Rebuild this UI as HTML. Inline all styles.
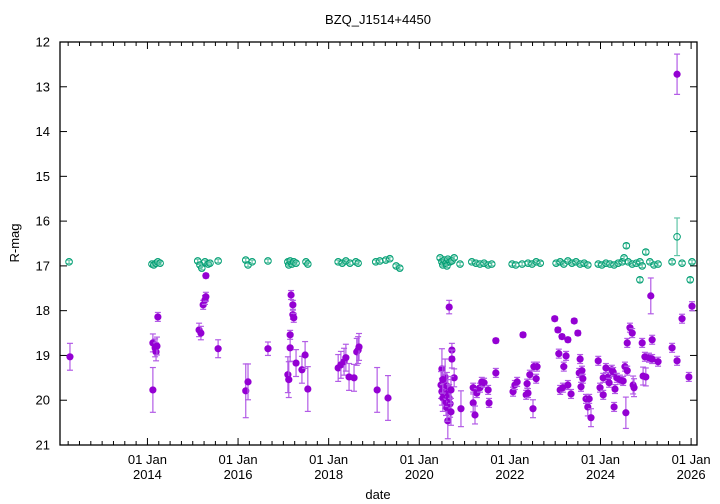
<!DOCTYPE html>
<html><head><meta charset="utf-8"><style>
html,body{margin:0;padding:0;background:#fff;}
svg{display:block;font-family:"Liberation Sans",sans-serif;}
</style></head><body>
<svg id="chart" width="720" height="504" viewBox="0 0 720 504" xmlns="http://www.w3.org/2000/svg">
<rect width="720" height="504" fill="#fff"/>
<text x="378" y="24" font-size="13" text-anchor="middle">BZQ_J1514+4450</text>
<text x="378" y="499" font-size="13" text-anchor="middle">date</text>
<text x="0" y="0" font-size="13" text-anchor="middle" transform="translate(19,243) rotate(-90)">R-mag</text>
<g id="grid"></g>
<g id="marks"></g>
<rect x="60" y="42" width="637" height="403" fill="none" stroke="#000" stroke-width="1.3"/>
</svg>
<script>
const yTicks=[12,13,14,15,16,17,18,19,20,21];
const xTickYears=[2014,2016,2018,2020,2022,2024,2026];
const xTickLabels=["2014","2016","2018","2020","2022","2024","2026"];
const purpleDates=[2012.29,2014.12,2014.12,2014.17,2014.19,2014.21,2014.23,2015.14,2015.18,2015.23,2015.27,2015.29,2015.29,2015.56,2016.17,2016.22,2016.66,2017.10,2017.12,2017.15,2017.17,2017.21,2017.21,2017.23,2017.15,2017.28,2017.41,2017.48,2017.54,2018.21,2018.27,2018.34,2018.38,2018.45,2018.56,2018.62,2018.65,2018.67,2019.07,2019.31,
2020.50,2020.57,2020.66,2020.72,2020.72,2020.77,2020.63,2020.48,2020.50,2020.52,2020.55,2020.57,2020.59,2020.61,2020.61,2020.63,2020.66,2020.68,2020.70,2020.70,2020.52,
2020.92,2021.19,2021.19,2021.23,2021.27,2021.34,2021.38,2021.43,2021.52,2021.54,2021.69,2021.69,2022.07,2022.11,2022.16,2022.29,2022.36,2022.38,2022.40,2022.44,2022.51,2022.53,2022.60,2022.58,
2022.99,2023.06,2023.08,2023.15,2023.24,2023.28,2023.19,2023.11,2023.17,2023.28,2023.35,2023.42,2023.50,2023.55,2023.53,2023.59,2023.61,2023.57,2023.68,2023.72,2023.75,2023.79,
2023.95,2023.99,2024.06,2024.06,2024.12,2024.17,2024.19,2024.25,2024.28,2024.30,2024.32,2024.36,2024.43,2024.50,2024.54,2024.56,2024.59,2024.59,2024.65,2024.70,2024.72,2024.74,
2024.92,2024.94,2025.00,2024.98,2025.07,2025.14,2025.11,2025.14,2025.27,2025.58,2025.69,2025.69,2025.80,2025.95,2026.02];
const purpleMags=[19.03,19.77,18.72,18.83,18.92,18.79,18.14,18.43,18.50,17.87,17.76,17.69,17.22,18.85,19.79,19.59,18.85,19.43,19.54,18.83,17.65,17.87,18.09,18.16,18.54,19.17,19.32,18.99,19.75,19.28,19.21,19.14,19.05,19.48,19.50,18.92,18.88,18.81,19.77,19.95,
19.30,19.48,17.92,18.88,19.08,19.50,20.46,19.66,19.81,19.95,19.72,19.88,20.04,19.68,20.17,19.84,19.95,20.08,19.77,20.26,19.54,
20.19,19.72,20.06,20.33,19.84,19.72,19.59,19.61,19.77,20.06,18.67,19.39,19.81,19.66,19.59,18.54,19.88,19.63,19.84,19.43,20.19,19.25,19.25,19.52,
18.18,18.43,18.96,18.58,19.01,18.65,19.25,19.77,19.72,19.66,19.86,18.23,18.50,19.08,19.39,19.34,19.52,19.70,19.97,20.15,19.97,20.39,
19.12,19.72,19.88,19.50,19.28,19.48,19.61,19.32,19.37,20.15,19.75,19.50,19.54,19.57,19.25,20.28,19.34,18.72,18.38,18.50,19.66,19.72,
18.72,19.46,19.48,19.03,19.05,18.65,17.67,19.08,19.14,18.83,19.12,12.72,18.18,19.48,17.90];
const purpleErrs=[0.3,0.5,0.2,0.2,0.2,0.2,0.1,0.15,0.15,0.1,0.1,0.1,0.05,0.2,0.6,0.4,0.15,0.4,0.4,0.3,0.1,0.1,0.1,0.1,0.1,0.3,0.3,0.3,0.5,0.3,0.3,0.3,0.3,0.3,0.3,0.3,0.3,0.3,0.5,0.5,
0.45,0.4,0.15,0.15,0.2,0.2,0.4,0.3,0.3,0.3,0.3,0.3,0.3,0.3,0.3,0.3,0.3,0.3,0.3,0.3,0.3,
0.4,0.1,0.2,0.2,0.1,0.1,0.1,0.1,0.1,0.1,0.05,0.1,0.1,0.1,0.1,0.05,0.1,0.1,0.1,0.1,0.2,0.1,0.1,0.1,
0.05,0.05,0.1,0.05,0.1,0.05,0.1,0.1,0.1,0.1,0.1,0.05,0.05,0.1,0.1,0.1,0.1,0.1,0.1,0.2,0.1,0.2,
0.1,0.1,0.1,0.1,0.1,0.1,0.1,0.1,0.1,0.1,0.1,0.1,0.1,0.1,0.1,0.35,0.1,0.1,0.1,0.1,0.2,0.2,
0.1,0.2,0.2,0.1,0.1,0.1,0.4,0.1,0.1,0.1,0.1,0.45,0.1,0.1,0.1];
const greenDates=[2012.27,2014.10,2014.14,2014.19,2014.23,2014.28,2015.11,2015.16,2015.20,2015.27,2015.34,2015.38,2015.56,2016.17,2016.22,2016.31,2016.66,2017.10,2017.12,2017.15,2017.19,2017.23,2017.28,2017.50,2017.54,2018.21,2018.30,2018.38,2018.47,2018.60,2018.65,2019.04,2019.13,2019.26,2019.35,2019.49,2019.57,
2020.46,2020.50,2020.52,2020.55,2020.59,2020.61,2020.63,2020.68,2020.72,2020.77,2020.90,2021.16,2021.25,2021.34,2021.43,2021.52,2021.60,2022.05,2022.13,2022.27,2022.40,2022.49,2022.58,2022.67,
2023.02,2023.11,2023.19,2023.28,2023.37,2023.46,2023.55,2023.64,2023.72,2023.95,2024.03,2024.12,2024.21,2024.30,2024.39,2024.48,2024.52,2024.57,2024.61,2024.70,2024.79,2024.87,2024.92,2024.87,2025.00,2025.09,2025.18,2025.27,2025.69,2025.58,2025.80,2025.98,2026.02];
const greenMags=[16.91,16.96,16.98,16.94,16.91,16.94,16.89,16.98,17.05,16.91,16.96,16.94,16.89,16.87,16.98,16.91,16.89,16.91,16.98,16.89,16.96,16.91,16.94,16.91,16.96,16.91,16.94,16.89,16.94,16.91,16.94,16.91,16.89,16.87,16.84,17.00,17.05,
16.82,16.91,16.98,16.87,16.94,17.00,16.85,16.91,16.89,16.82,16.96,16.91,16.94,16.96,16.94,16.98,16.96,16.96,16.98,16.96,16.94,16.96,16.91,16.94,
16.94,16.91,16.96,16.89,16.94,16.91,16.96,16.94,16.98,16.96,16.98,16.94,16.96,16.98,16.94,16.91,16.82,16.55,16.91,16.96,16.94,16.91,17.00,17.31,16.69,16.91,16.98,16.96,16.35,16.91,16.94,17.31,16.91];
const greenErrs=greenMags.map(m=>m>17.2||m<16.7?(m<16.5?0.42:0.05):0.04);

const X0=2012.07,X1=2026.13,PX0=60,PX1=697,PY0=42,PY1=445;
function xs(t){return PX0+(t-X0)/(X1-X0)*(PX1-PX0);}
function ys(m){return PY0+(m-12)/(21-12)*(PY1-PY0);}
const NS="http://www.w3.org/2000/svg";
function mk(tag,attrs,parent){const e=document.createElementNS(NS,tag);for(const k in attrs)e.setAttribute(k,attrs[k]);parent.appendChild(e);return e;}
const grid=document.getElementById('grid'),marks=document.getElementById('marks');
yTicks.forEach(v=>{
  const y=ys(v);
  const t=mk('line',{x1:PX0,x2:PX0+7,y1:y,y2:y,stroke:'#000'},grid);
  
  
  const t2=mk('line',{x1:PX1-7,x2:PX1,y1:y,y2:y,stroke:'#000'},grid);
  
  
  const l=mk('text',{x:PX0-10,y:y+4.5,'font-size':13,'text-anchor':'end'},grid);
  l.textContent=v;
  
  
});
for(let q=Math.ceil(X0*4);q<=Math.floor(X1*4);q++){
  const t=q/4,x=xs(t);const major=(q%8===0);const len=major?7:4;
  const a=mk('line',{x1:x,x2:x,y1:PY1,y2:PY1-len,stroke:'#000'},grid);
  
  
  const b=mk('line',{x1:x,x2:x,y1:PY0,y2:PY0+len,stroke:'#000'},grid);
  
  
}
xTickYears.forEach((yr,i)=>{
  const x=xs(yr);
  const l1=mk('text',{x:x,y:464,'font-size':13,'text-anchor':'middle'},grid);
  l1.textContent='01 Jan';
  
  
  const l2=mk('text',{x:x,y:479,'font-size':13,'text-anchor':'middle'},grid);
  l2.textContent=xTickLabels[i];
  
  
});
function errbar(x,m,e,col){
  const y1=ys(m-e),y2=ys(m+e);
  const g=mk('g',{stroke:col,'stroke-width':1.2},marks);
  
  
  mk('line',{x1:x,x2:x,y1:y1,y2:y2},g);
  mk('line',{x1:x-3,x2:x+3,y1:y1,y2:y1},g);
  mk('line',{x1:x-3,x2:x+3,y1:y2,y2:y2},g);
}
greenDates.forEach((d,i)=>{
  const x=xs(d),y=ys(greenMags[i]);
  errbar(x,greenMags[i],greenErrs[i],'#5fc4a6');
  const c=mk('circle',{cx:x,cy:y,r:3.3,fill:'none',stroke:'#009e73','stroke-width':1},marks);
  
  
});
purpleDates.forEach((d,i)=>{
  const x=xs(d),y=ys(purpleMags[i]);
  errbar(x,purpleMags[i],purpleErrs[i],'#b35ce6');
  const c=mk('circle',{cx:x,cy:y,r:3.6,fill:'#9400d3'},marks);
  
  
});
</script>
</body></html>
